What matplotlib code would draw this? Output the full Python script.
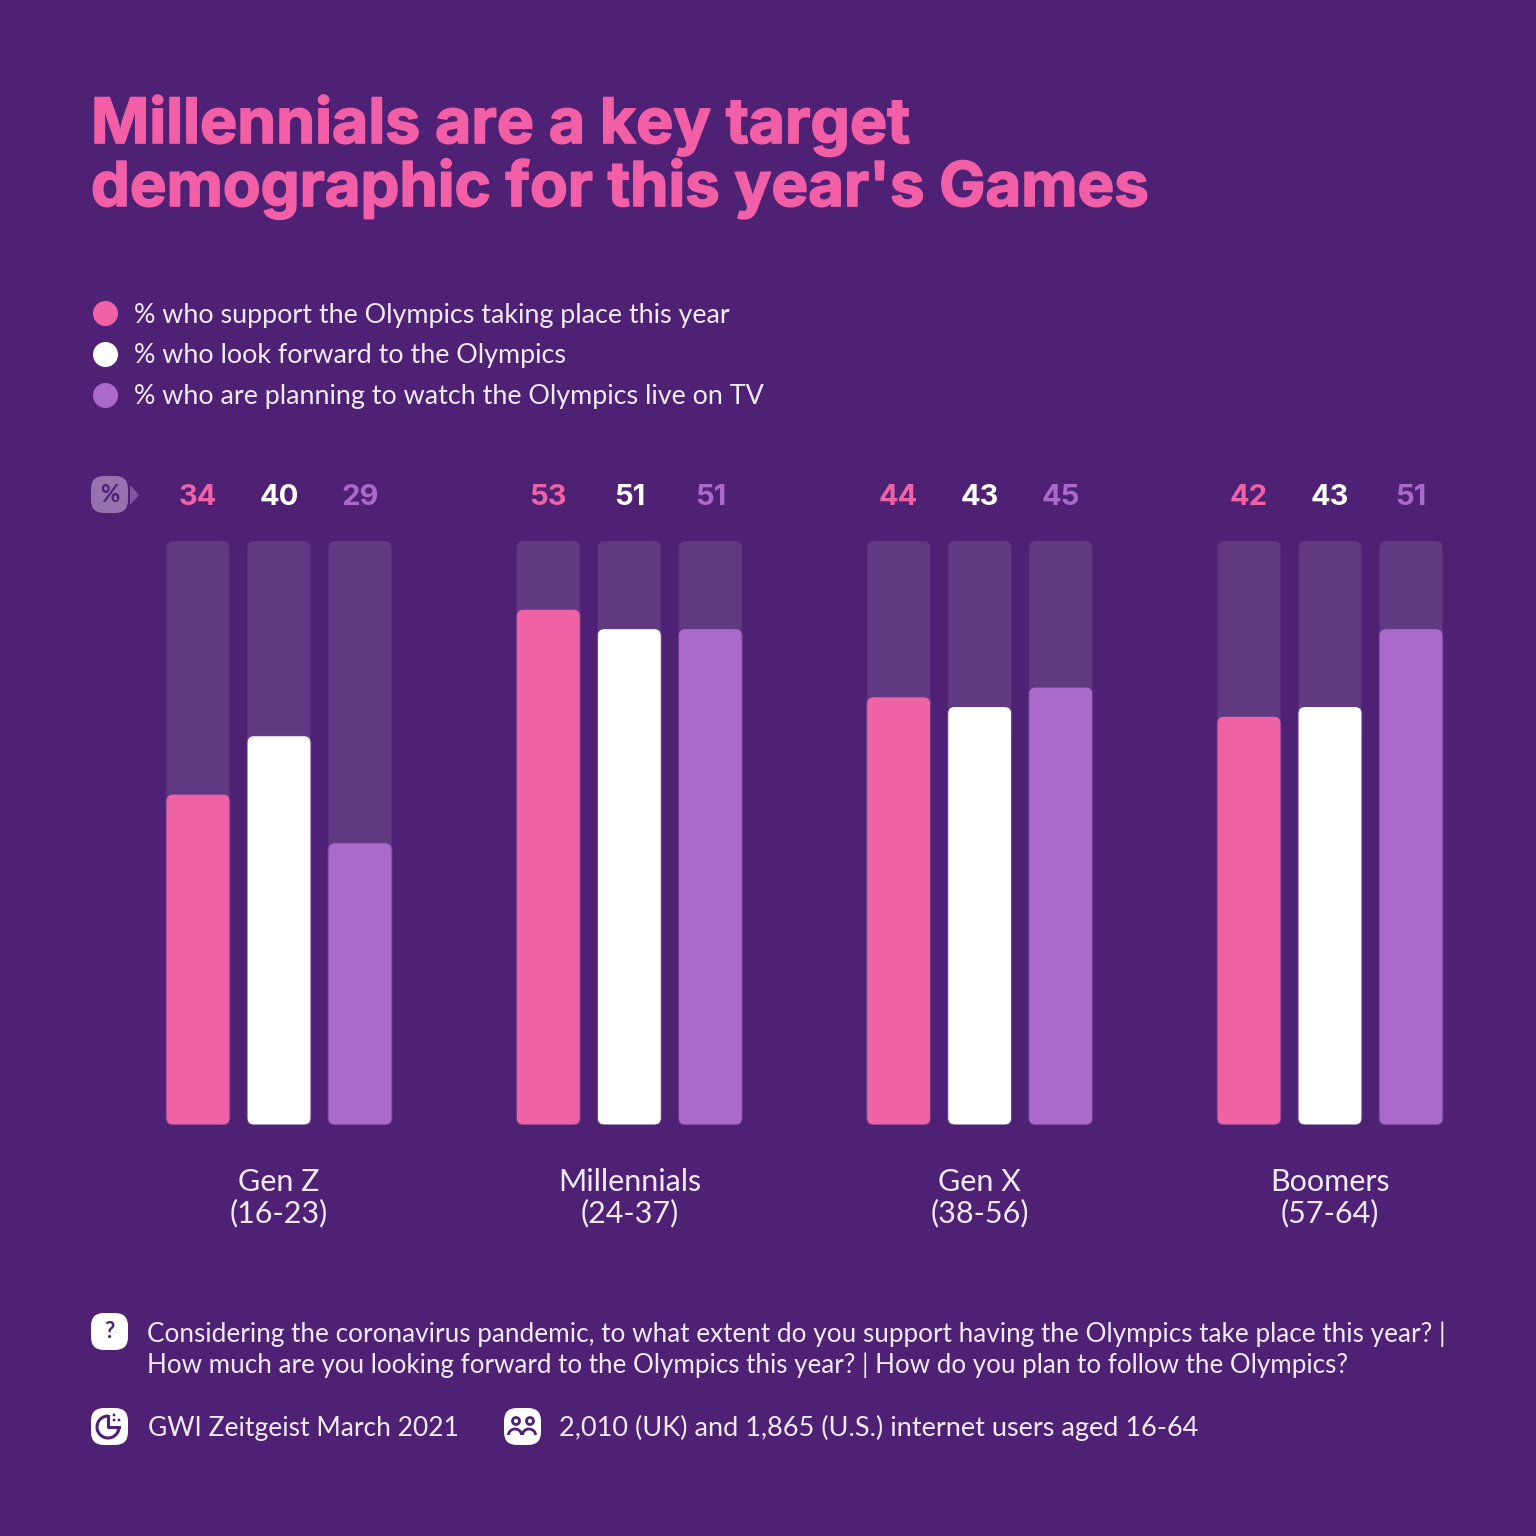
import matplotlib
matplotlib.use("Agg")
import matplotlib.pyplot as plt
import matplotlib.patheffects as pe
from matplotlib.patches import FancyBboxPatch, Circle, Polygon, Arc
from matplotlib.lines import Line2D

# data
groups = ["Gen Z\n(16-23)", "Millennials\n(24-37)", "Gen X\n(38-56)", "Boomers\n(57-64)"]
support = [34, 53, 44, 42]
forward = [40, 51, 43, 43]
watch = [29, 51, 45, 51]
legend_labels = [
    "% who support the Olympics taking place this year",
    "% who look forward to the Olympics",
    "% who are planning to watch the Olympics live on TV",
]

BG = "#4f2175"
TRACK = "#613983"
PINK = "#f062a6"
WHITE = "#ffffff"
PURPLE = "#ab69cb"
TEXT = "#f0eaf4"
FONT = "Lato"
HEAD = "Inter"

plt.rcParams["font.family"] = [FONT, "DejaVu Sans"]

fig = plt.figure(figsize=(15.36, 15.36), dpi=100, facecolor=BG)

# overlay in pixels for the furniture
ov = fig.add_axes([0, 0, 1, 1], zorder=3)
ov.set_xlim(0, 1536)
ov.set_ylim(1536, 0)
ov.axis("off")
ov.patch.set_alpha(0)

# chart axes, 0-60 scale
ax = fig.add_axes([0, 1 - 1125 / 1536, 1, 584 / 1536], zorder=2)
ax.patch.set_alpha(0)
UNIT = 350.33
ax.set_xlim(-279 / UNIT, (1536 - 279) / UNIT)
ax.set_ylim(0, 60)
for s in ax.spines.values():
    s.set_visible(False)
ax.set_yticks([])
ax.set_xticks(range(len(groups)))
ax.set_xticklabels(groups, fontsize=22, color=TEXT, linespacing=1.1)
ax.tick_params(axis="x", length=0, pad=31)

aspect = (584 / 60) / UNIT  # px per y unit against px per x unit


def rounded_bar(x, width, height, color, edge=None, z=2):
    round_x = 7 / UNIT
    p = FancyBboxPatch((x - width / 2, 0), width, height,
                       boxstyle=f"round,pad=0,rounding_size={round_x}",
                       mutation_aspect=1 / aspect, facecolor=color,
                       edgecolor=edge or "none", linewidth=0.8, zorder=z)
    ax.add_patch(p)


offset = 81 / UNIT
width = 63 / UNIT
series = [(support, PINK, -1), (forward, WHITE, 0), (watch, PURPLE, 1)]
for values, color, pos in series:
    for i, v in enumerate(values):
        x = i + pos * offset
        rounded_bar(x, width, 60, TRACK, z=1)
        rounded_bar(x, 64 / UNIT, v, color, edge=TRACK, z=2)
        ax.text(x, 64.5, str(v), ha="center", va="center", color=color,
                fontsize=21, fontweight="bold", family=HEAD, clip_on=False)

# title
heavy = [pe.withStroke(linewidth=1.2, foreground="#f25fa6")]
ov.text(91, 143, "Millennials are a key target", color="#f25fa6", fontsize=45,
        fontweight="bold", family=HEAD, va="baseline", path_effects=heavy)
ov.text(91, 206, "demographic for this year's Games", color="#f25fa6", fontsize=44.4,
        fontweight="bold", family=HEAD, va="baseline", path_effects=heavy)

# legend
handles = [Line2D([], [], linestyle="none", marker="o", markersize=17, color=c)
           for c in (PINK, WHITE, PURPLE)]
fig.legend(handles, legend_labels, loc="upper left", bbox_to_anchor=(72.5 / 1536, 1 - 292 / 1536),
           frameon=False, fontsize=19.4, labelcolor=TEXT, labelspacing=0.58,
           handletextpad=0.29, borderpad=0.4, handlelength=1.6, borderaxespad=0)


def icon(x, y, size, color, alpha=1.0):
    ov.add_patch(FancyBboxPatch((x, y), size, size, boxstyle="round,pad=0,rounding_size=13",
                                facecolor=color, edgecolor="none", alpha=alpha))


# % marker
icon(91, 476, 37, "#9673ae")
ov.add_patch(Polygon([(130, 485), (139, 495), (130, 505)], facecolor="#8058a0", edgecolor="none"))
ov.text(109.5, 494.5, "%", ha="center", va="center", color=BG, fontsize=17, fontweight="bold")

# question icon
icon(91, 1313, 37, WHITE)
ov.text(109.5, 1331.5, "?", ha="center", va="center", color=BG, fontsize=16, fontweight="bold")
ov.text(147, 1342, "Considering the coronavirus pandemic, to what extent do you support having the Olympics take place this year? |",
        color=TEXT, fontsize=18.8, va="baseline")
ov.text(147, 1373, "How much are you looking forward to the Olympics this year? | How do you plan to follow the Olympics?",
        color=TEXT, fontsize=18.7, va="baseline")

# source icon
icon(91, 1408, 37, WHITE)
ov.add_patch(Arc((108, 1427), 22, 22, theta1=0, theta2=270, edgecolor=BG, linewidth=2.2))
ov.plot([108, 108, 119], [1416, 1427, 1427], color=BG, linewidth=2.2)
for dx, dy in [(114, 1415), (114, 1420), (119, 1420)]:
    ov.add_patch(Circle((dx, dy), 1.4, facecolor=BG, edgecolor="none"))
ov.text(148, 1436, "GWI Zeitgeist March 2021", color=TEXT, fontsize=19, va="baseline")

# audience icon
icon(504, 1408, 37, WHITE)
for cx, cy, theta2 in [(516, 1421, 360), (530, 1421, 360)]:
    ov.add_patch(Circle((cx, cy), 3.5, facecolor="none", edgecolor=BG, linewidth=2))
    ov.add_patch(Arc((cx - 1, 1435), 13, 12, theta1=180, theta2=theta2, edgecolor=BG, linewidth=2))
ov.text(559, 1436, "2,010 (UK) and 1,865 (U.S.) internet users aged 16-64", color=TEXT, fontsize=19.5,
        va="baseline")

fig.savefig("out.png", dpi=100, facecolor=BG)
